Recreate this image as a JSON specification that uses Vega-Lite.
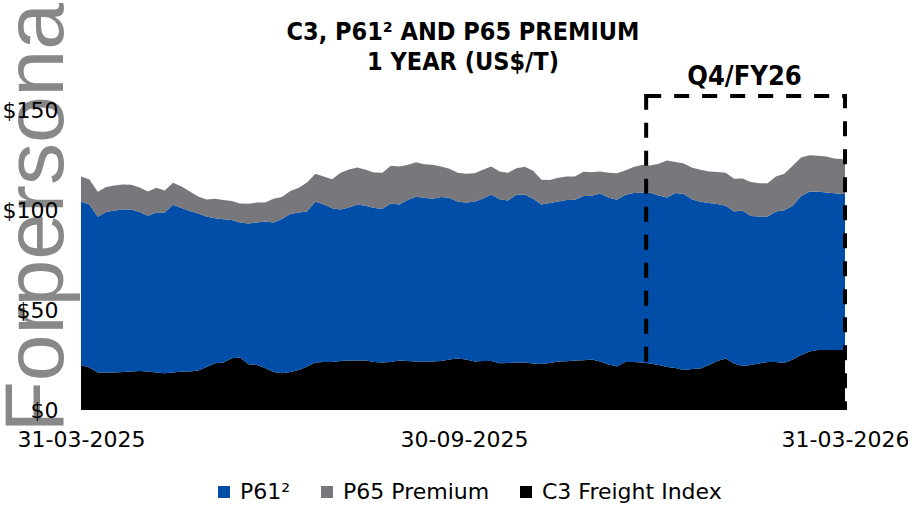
{
  "$schema": "https://vega.github.io/schema/vega-lite/v6.json",
  "width": 764,
  "height": 320,
  "autosize": {"type": "none"},
  "padding": {"left": 81, "top": 90, "right": 63, "bottom": 95},
  "background": "white",
  "config": {
    "view": {"stroke": null},
    "font": "DejaVu Sans",
    "axis": {"grid": false, "ticks": false, "domain": false}
  },
  "title": {
    "text": ["C3, P61² AND P65 PREMIUM", "1 YEAR (US$/T)"],
    "font": "DejaVu Sans Condensed",
    "fontSize": 25,
    "fontWeight": "bold",
    "lineHeight": 30,
    "offset": 0,
    "dy": 73,
    "anchor": "middle",
    "color": "black"
  },
  "datasets": {
    "series": [
      {"date": "2025-03-31", "c3": 22.5, "p61": 81.7, "p65": 12.5},
      {"date": "2025-04-04", "c3": 21.3, "p61": 81.5, "p65": 12.5},
      {"date": "2025-04-08", "c3": 18.8, "p61": 77.8, "p65": 12.5},
      {"date": "2025-04-12", "c3": 18.7, "p61": 80.3, "p65": 12.5},
      {"date": "2025-04-16", "c3": 18.8, "p61": 81.0, "p65": 12.5},
      {"date": "2025-04-20", "c3": 19.0, "p61": 81.3, "p65": 12.5},
      {"date": "2025-04-24", "c3": 19.3, "p61": 81.0, "p65": 12.3},
      {"date": "2025-04-28", "c3": 19.5, "p61": 79.5, "p65": 12.3},
      {"date": "2025-05-02", "c3": 19.3, "p61": 77.8, "p65": 12.2},
      {"date": "2025-05-06", "c3": 18.8, "p61": 80.0, "p65": 12.3},
      {"date": "2025-05-10", "c3": 18.4, "p61": 80.3, "p65": 11.0},
      {"date": "2025-05-14", "c3": 18.8, "p61": 83.8, "p65": 11.0},
      {"date": "2025-05-18", "c3": 19.2, "p61": 81.8, "p65": 10.8},
      {"date": "2025-05-22", "c3": 19.2, "p61": 80.3, "p65": 9.8},
      {"date": "2025-05-26", "c3": 19.8, "p61": 78.5, "p65": 8.5},
      {"date": "2025-05-30", "c3": 21.5, "p61": 75.3, "p65": 8.5},
      {"date": "2025-06-03", "c3": 23.4, "p61": 72.5, "p65": 9.7},
      {"date": "2025-06-07", "c3": 23.7, "p61": 71.7, "p65": 9.6},
      {"date": "2025-06-11", "c3": 25.9, "p61": 69.1, "p65": 9.5},
      {"date": "2025-06-15", "c3": 26.3, "p61": 67.5, "p65": 9.5},
      {"date": "2025-06-19", "c3": 22.9, "p61": 70.4, "p65": 9.8},
      {"date": "2025-06-23", "c3": 22.5, "p61": 71.3, "p65": 9.9},
      {"date": "2025-06-27", "c3": 21.0, "p61": 73.2, "p65": 9.5},
      {"date": "2025-07-01", "c3": 19.0, "p61": 74.8, "p65": 11.8},
      {"date": "2025-07-05", "c3": 18.4, "p61": 77.1, "p65": 11.0},
      {"date": "2025-07-09", "c3": 19.0, "p61": 79.0, "p65": 11.5},
      {"date": "2025-07-13", "c3": 20.0, "p61": 78.7, "p65": 12.4},
      {"date": "2025-07-17", "c3": 21.7, "p61": 77.5, "p65": 14.6},
      {"date": "2025-07-21", "c3": 23.8, "p61": 80.4, "p65": 13.9},
      {"date": "2025-07-25", "c3": 24.0, "p61": 78.8, "p65": 14.0},
      {"date": "2025-07-29", "c3": 24.0, "p61": 76.9, "p65": 14.5},
      {"date": "2025-08-02", "c3": 24.5, "p61": 75.8, "p65": 18.3},
      {"date": "2025-08-06", "c3": 24.7, "p61": 76.6, "p65": 19.0},
      {"date": "2025-08-10", "c3": 24.7, "p61": 78.1, "p65": 18.5},
      {"date": "2025-08-14", "c3": 24.7, "p61": 77.4, "p65": 18.0},
      {"date": "2025-08-18", "c3": 24.0, "p61": 77.0, "p65": 17.8},
      {"date": "2025-08-22", "c3": 23.8, "p61": 76.8, "p65": 18.0},
      {"date": "2025-08-26", "c3": 24.0, "p61": 79.3, "p65": 18.8},
      {"date": "2025-08-30", "c3": 24.7, "p61": 78.1, "p65": 19.0},
      {"date": "2025-09-03", "c3": 24.5, "p61": 80.5, "p65": 17.5},
      {"date": "2025-09-07", "c3": 24.3, "p61": 82.3, "p65": 17.3},
      {"date": "2025-09-11", "c3": 24.2, "p61": 81.9, "p65": 16.8},
      {"date": "2025-09-15", "c3": 24.2, "p61": 81.4, "p65": 17.0},
      {"date": "2025-09-19", "c3": 24.5, "p61": 82.0, "p65": 15.3},
      {"date": "2025-09-23", "c3": 25.3, "p61": 80.8, "p65": 14.5},
      {"date": "2025-09-27", "c3": 25.8, "p61": 78.3, "p65": 14.5},
      {"date": "2025-10-01", "c3": 25.3, "p61": 78.5, "p65": 14.3},
      {"date": "2025-10-05", "c3": 24.3, "p61": 79.8, "p65": 14.3},
      {"date": "2025-10-09", "c3": 24.5, "p61": 81.3, "p65": 14.3},
      {"date": "2025-10-13", "c3": 24.5, "p61": 83.3, "p65": 14.0},
      {"date": "2025-10-17", "c3": 23.4, "p61": 82.0, "p65": 13.8},
      {"date": "2025-10-21", "c3": 23.5, "p61": 81.3, "p65": 13.8},
      {"date": "2025-10-25", "c3": 23.7, "p61": 83.9, "p65": 13.3},
      {"date": "2025-10-29", "c3": 23.7, "p61": 84.1, "p65": 13.8},
      {"date": "2025-11-02", "c3": 23.3, "p61": 82.3, "p65": 14.0},
      {"date": "2025-11-06", "c3": 23.0, "p61": 79.8, "p65": 12.3},
      {"date": "2025-11-10", "c3": 23.5, "p61": 80.0, "p65": 11.5},
      {"date": "2025-11-14", "c3": 24.2, "p61": 80.1, "p65": 11.8},
      {"date": "2025-11-18", "c3": 24.4, "p61": 80.6, "p65": 11.7},
      {"date": "2025-11-22", "c3": 24.7, "p61": 80.4, "p65": 11.7},
      {"date": "2025-11-26", "c3": 24.9, "p61": 82.1, "p65": 12.1},
      {"date": "2025-11-30", "c3": 25.3, "p61": 81.8, "p65": 11.8},
      {"date": "2025-12-04", "c3": 24.3, "p61": 84.0, "p65": 11.0},
      {"date": "2025-12-08", "c3": 22.8, "p61": 83.5, "p65": 12.3},
      {"date": "2025-12-12", "c3": 21.8, "p61": 83.3, "p65": 13.3},
      {"date": "2025-12-16", "c3": 24.0, "p61": 83.5, "p65": 12.3},
      {"date": "2025-12-20", "c3": 24.0, "p61": 84.5, "p65": 13.0},
      {"date": "2025-12-24", "c3": 23.8, "p61": 84.8, "p65": 13.9},
      {"date": "2025-12-28", "c3": 23.3, "p61": 85.3, "p65": 13.6},
      {"date": "2026-01-01", "c3": 22.5, "p61": 84.8, "p65": 15.8},
      {"date": "2026-01-05", "c3": 21.5, "p61": 84.8, "p65": 18.4},
      {"date": "2026-01-09", "c3": 21.0, "p61": 87.5, "p65": 15.5},
      {"date": "2026-01-13", "c3": 20.0, "p61": 88.0, "p65": 15.3},
      {"date": "2026-01-17", "c3": 20.5, "p61": 84.8, "p65": 15.8},
      {"date": "2026-01-21", "c3": 20.8, "p61": 83.3, "p65": 16.0},
      {"date": "2026-01-25", "c3": 22.5, "p61": 81.0, "p65": 15.8},
      {"date": "2026-01-29", "c3": 24.5, "p61": 78.5, "p65": 16.0},
      {"date": "2026-02-02", "c3": 25.8, "p61": 76.3, "p65": 16.5},
      {"date": "2026-02-06", "c3": 23.3, "p61": 76.0, "p65": 16.3},
      {"date": "2026-02-10", "c3": 22.0, "p61": 77.8, "p65": 16.0},
      {"date": "2026-02-14", "c3": 22.5, "p61": 74.5, "p65": 17.0},
      {"date": "2026-02-18", "c3": 23.3, "p61": 73.4, "p65": 16.7},
      {"date": "2026-02-22", "c3": 24.0, "p61": 72.7, "p65": 16.7},
      {"date": "2026-02-26", "c3": 24.0, "p61": 75.3, "p65": 17.5},
      {"date": "2026-03-02", "c3": 23.5, "p61": 76.4, "p65": 18.2},
      {"date": "2026-03-06", "c3": 25.3, "p61": 76.8, "p65": 20.0},
      {"date": "2026-03-10", "c3": 27.5, "p61": 79.5, "p65": 19.3},
      {"date": "2026-03-14", "c3": 29.3, "p61": 79.8, "p65": 18.3},
      {"date": "2026-03-18", "c3": 30.0, "p61": 79.2, "p65": 17.9},
      {"date": "2026-03-22", "c3": 30.0, "p61": 78.7, "p65": 18.0},
      {"date": "2026-03-26", "c3": 30.0, "p61": 78.4, "p65": 17.4},
      {"date": "2026-03-30", "c3": 30.0, "p61": 78.0, "p65": 17.4},
      {"date": "2026-03-31", "c3": 30.0, "p61": 78.0, "p65": 17.3}
    ],
    "box": [
      {"start": "2025-12-26", "end": "2026-03-31", "mid": "2026-02-11", "top": 157, "bottom": 1, "label": "Q4/FY26"}
    ]
  },
  "layer": [
    {
      "data": {"name": "series"},
      "transform": [{"fold": ["c3", "p61", "p65"]}],
      "mark": {"type": "area", "interpolate": "linear"},
      "encoding": {
        "x": {
          "field": "date",
          "type": "temporal",
          "scale": {
            "type": "utc",
            "domain": [
              {"year": 2025, "month": 3, "date": 31, "utc": true},
              {"year": 2026, "month": 3, "date": 31, "utc": true}
            ]
          },
          "axis": {
            "title": null,
            "values": [
              {"year": 2025, "month": 3, "date": 31, "utc": true},
              {"year": 2025, "month": 9, "date": 30, "utc": true},
              {"year": 2026, "month": 3, "date": 31, "utc": true}
            ],
            "labelExpr": "utcFormat(datum.value, '%d-%m-%Y')",
            "labelFontSize": 22,
            "labelColor": "black",
            "labelPadding": 19,
            "labelFlush": false,
            "labelOverlap": false
          }
        },
        "y": {
          "field": "value",
          "type": "quantitative",
          "stack": "zero",
          "scale": {"domain": [0, 160], "nice": false},
          "axis": {
            "orient": "left",
            "labels": false,
            "ticks": false,
            "domain": false,
            "grid": false,
            "title": "Forpersona",
            "titleFont": "Liberation Sans",
            "titleFontSize": 84,
            "titleFontWeight": "normal",
            "titleColor": "#888888",
            "titleAngle": 270,
            "titleAlign": "left",
            "titleBaseline": "alphabetic",
            "titleX": -19,
            "titleY": 342
          }
        },
        "color": {
          "field": "key",
          "type": "nominal",
          "scale": {"domain": ["p61", "p65", "c3"], "range": ["#004EA8", "#78777C", "#000000"]},
          "legend": {
            "orient": "none",
            "legendX": 132,
            "legendY": 391,
            "direction": "horizontal",
            "title": null,
            "symbolType": "square",
            "symbolSize": 144,
            "symbolStrokeWidth": 0,
            "labelFontSize": 22,
            "labelColor": "black",
            "labelOffset": 5,
            "labelLimit": 400,
            "columnPadding": 25,
            "labelExpr": "datum.label == 'p61' ? 'P61²' : datum.label == 'p65' ? 'P65 Premium' : 'C3 Freight Index'"
          }
        },
        "order": {"field": "key", "sort": "ascending"}
      }
    },
    {
      "data": {"name": "box"},
      "mark": {"type": "rect", "fill": "transparent", "stroke": "black", "strokeWidth": 4, "strokeDash": [15, 13]},
      "encoding": {
        "x": {"field": "start", "type": "temporal", "scale": {"type": "utc"}},
        "x2": {"field": "end"},
        "y": {
          "field": "top",
          "type": "quantitative",
          "axis": {
            "orient": "left",
            "values": [0, 50, 100, 150],
            "labelExpr": "'$' + datum.label",
            "labelFontSize": 22,
            "labelColor": "black",
            "labelPadding": 23,
            "title": null,
            "ticks": false,
            "domain": false,
            "grid": false
          }
        },
        "y2": {"field": "bottom"}
      }
    },
    {
      "data": {"name": "box"},
      "mark": {"type": "text", "font": "DejaVu Sans Condensed", "fontSize": 27, "fontWeight": "bold", "baseline": "alphabetic", "align": "center", "dy": -11, "color": "black"},
      "encoding": {
        "x": {"field": "mid", "type": "temporal", "scale": {"type": "utc"}},
        "y": {"field": "top", "type": "quantitative", "axis": null},
        "text": {"field": "label"}
      }
    }
  ],
  "resolve": {"axis": {"y": "independent"}}
}
